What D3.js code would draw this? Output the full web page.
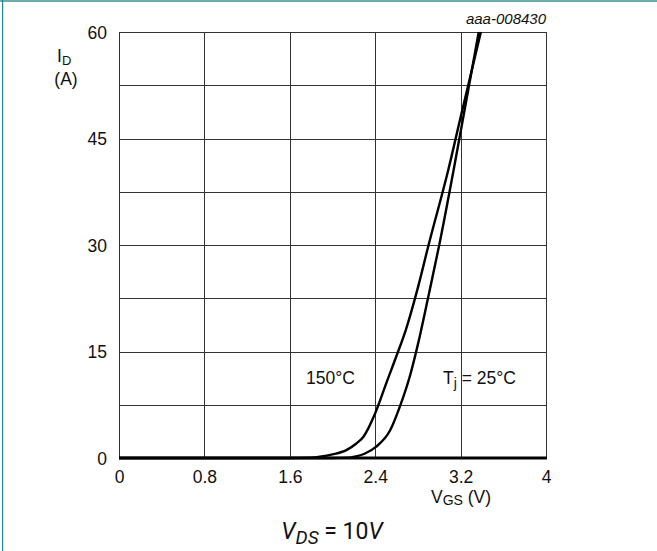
<!DOCTYPE html>
<html>
<head>
<meta charset="utf-8">
<script src="https://cdn.jsdelivr.net/npm/d3@7"></script>
<style>
  html, body { margin: 0; padding: 0; background: #fff; }
  svg { display: block; font-family: "Liberation Sans", Arial, sans-serif; }
</style>
</head>
<body>
<script>
// Transfer characteristics: drain current vs gate-source voltage
const xTicks = [0, 0.8, 1.6, 2.4, 3.2, 4];
const yTicks = [0, 15, 30, 45, 60];
const yGrid = [7.5, 15, 22.5, 30, 37.5, 45, 52.5];

// Tj = 150 °C  (VGS in V, ID in A)
const vgs150 = [0, 1.6, 1.80, 1.88, 2.00, 2.13, 2.22, 2.29, 2.40, 2.51, 2.60, 2.69, 2.80, 2.90, 3.085, 3.20, 3.39];
const id150  = [0, 0,   0.05, 0.18, 0.5,  1.1,  2.0,  3.0,  6.3,  10.8, 14.4, 18.2, 24.0, 30.0, 40.6,  48.0, 60.0];

// Tj = 25 °C
const vgs25 = [0, 2.0, 2.15, 2.21, 2.30, 2.41, 2.54, 2.63, 2.73, 2.80, 2.90, 3.00, 3.135, 3.225, 3.37];
const id25  = [0, 0,   0.05, 0.2,  0.6,  1.6,  3.9,  7.2,  11.8, 16.0, 22.9, 30.0, 40.6,  48.0,  60.0];

const W = 657, H = 551;
const svg = d3.select("body").append("svg").attr("width", W).attr("height", H);

// page frame
svg.append("rect").attr("x", 0).attr("y", 0).attr("width", W).attr("height", 2).attr("fill", "#6aabab");
svg.append("rect").attr("x", 2).attr("y", 0).attr("width", 1.2).attr("height", H).attr("fill", "#1d8a8c");

const x = d3.scaleLinear().domain([0, 4]).range([119, 546]);
const y = d3.scaleLinear().domain([0, 60]).range([458, 32]);

const g = svg.append("g");

// grid
g.selectAll(".vg").data(xTicks).enter().append("line")
  .attr("x1", d => Math.round(x(d)) + 0.5).attr("x2", d => Math.round(x(d)) + 0.5)
  .attr("y1", y(60)).attr("y2", y(0))
  .attr("stroke", "#333").attr("stroke-width", 1);
g.selectAll(".hg").data(yGrid.concat([60])).enter().append("line")
  .attr("y1", d => Math.round(y(d)) + 0.5).attr("y2", d => Math.round(y(d)) + 0.5)
  .attr("x1", x(0)).attr("x2", x(4) + 1)
  .attr("stroke", "#333").attr("stroke-width", 1);

// thick baseline
g.append("line").attr("x1", x(0)).attr("x2", x(4) + 1)
  .attr("y1", y(0)).attr("y2", y(0))
  .attr("stroke", "#000").attr("stroke-width", 3);

// tick labels through d3 axes (domain and tick marks hidden)
const FS = 17.5;
const xAxis = svg.append("g").attr("transform", `translate(0,${y(0)})`)
  .call(d3.axisBottom(x).tickValues(xTicks).tickFormat(d => String(d)).tickSize(0).tickPadding(13));
const yAxis = svg.append("g").attr("transform", `translate(${x(0)},0)`)
  .call(d3.axisLeft(y).tickValues(yTicks).tickFormat(d => String(d)).tickSize(0).tickPadding(12));
[xAxis, yAxis].forEach(a => {
  a.select(".domain").remove();
  a.attr("font-size", FS).attr("font-family", "Liberation Sans, Arial, sans-serif");
  a.selectAll("text").attr("font-size", FS).attr("fill", "#111");
});
yAxis.selectAll("text").attr("dy", "0.35em");

// curves
const line = d3.line().x(d => x(d[0])).y(d => y(d[1])).curve(d3.curveMonotoneX);
const s150 = vgs150.map((v, i) => [v, id150[i]]);
const s25 = vgs25.map((v, i) => [v, id25[i]]);
[s150, s25].forEach(s => {
  g.append("path").attr("d", line(s)).attr("fill", "none")
    .attr("stroke", "#000").attr("stroke-width", 2.4).attr("stroke-linejoin", "round");
});

// text
const T = (tx, ty, size, anchor) => svg.append("text").attr("x", tx).attr("y", ty)
  .attr("font-size", size).attr("text-anchor", anchor || "start").attr("fill", "#111");

const idl = T(57, 62, FS);
idl.append("tspan").text("I");
idl.append("tspan").attr("font-size", 13).attr("dy", 3).text("D");
T(66, 85, FS, "middle").text("(A)");

T(546, 24, 15, "end").attr("font-style", "italic").text("aaa-008430");

T(306, 384, FS).text("150°C");
const tj = T(443, 384, FS);
tj.append("tspan").text("T");
tj.append("tspan").attr("font-size", 14).attr("dy", 4).text("j");
tj.append("tspan").attr("dy", -4).text(" = 25°C");

const vgs = T(461, 503, FS, "middle");
vgs.append("tspan").text("V");
vgs.append("tspan").attr("font-size", 14).attr("dy", 2).text("GS");
vgs.append("tspan").attr("dy", -2).text(" (V)");

const vds = T(332, 539, 23, "middle").attr("font-family", "Roboto, Liberation Sans, Arial, sans-serif");
vds.append("tspan").attr("font-style", "italic").text("V");
vds.append("tspan").attr("font-style", "italic").attr("font-size", 19).attr("dy", 5).text("DS");
vds.append("tspan").attr("dy", -5).text(" = 10");
vds.append("tspan").attr("font-style", "italic").text("V");
</script>
</body>
</html>
